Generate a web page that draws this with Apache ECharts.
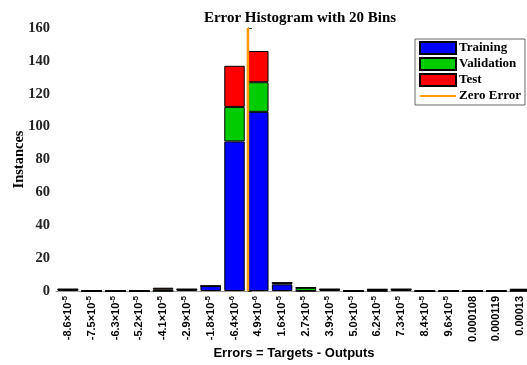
<!DOCTYPE html>
<html>
<head>
<meta charset="utf-8">
<script src="https://cdn.jsdelivr.net/npm/echarts@6/dist/echarts.min.js"></script>
<style>
  html, body { margin: 0; padding: 0; background: #fff; }
  #chart { width: 527px; height: 365px; }
</style>
</head>
<body>
<div id="chart"></div>
<script>
// Bin centres of the error histogram (Targets - Outputs)
const binCenters = [-8.6e-5, -7.5e-5, -6.3e-5, -5.2e-5, -4.1e-5, -2.9e-5, -1.8e-5, -6.4e-6,
  4.9e-6, 1.6e-5, 2.7e-5, 3.9e-5, 5.0e-5, 6.2e-5, 7.3e-5, 8.4e-5, 9.6e-5, 0.000108, 0.000119, 0.00013];
// Tick labels; "^" marks the exponent part
const binLabels = ['-8.6×10^-5', '-7.5×10^-5', '-6.3×10^-5', '-5.2×10^-5', '-4.1×10^-5',
  '-2.9×10^-5', '-1.8×10^-5', '-6.4×10^-6', '4.9×10^-6', '1.6×10^-5', '2.7×10^-5',
  '3.9×10^-5', '5.0×10^-5', '6.2×10^-5', '7.3×10^-5', '8.4×10^-5', '9.6×10^-5',
  '0.000108', '0.000119', '0.00013'];
// Instances per bin for each subset
const training   = [1, 0, 0, 0, 0, 1, 3, 91, 109, 4, 0, 1, 0, 0, 1, 0, 0, 0, 0, 0];
const validation = [0, 0, 0, 0, 1, 0, 0, 21, 18, 1, 2, 0, 0, 1, 0, 0, 0, 0, 0, 1];
const test       = [0, 0, 0, 0, 1, 0, 0, 25, 19, 0, 0, 0, 0, 0, 0, 0, 0, 0, 0, 0];
const zeroError = 0;
const yTicks = { min: 0, max: 160, step: 20 };

const binWidth = (binCenters[binCenters.length - 1] - binCenters[0]) / (binCenters.length - 1);
const serif = 'Liberation Serif, Times New Roman, serif';
const sans = 'Liberation Sans, Arial, sans-serif';

const chart = echarts.init(document.getElementById('chart'), null, { renderer: 'canvas' });

function barSeries(name, data, color) {
  return {
    name: name, type: 'bar', stack: 'all', data: data,
    barWidth: '86%', xAxisIndex: 0, yAxisIndex: 0,
    itemStyle: { color: color, borderColor: '#000', borderWidth: 1 },
    emphasis: { disabled: true }
  };
}

chart.setOption({
  animation: false,
  title: {
    text: 'Error Histogram with 20 Bins',
    left: 295, top: 6, textAlign: 'center',
    textStyle: { fontFamily: serif, fontWeight: 'bold', fontSize: 15, color: '#000' }
  },
  legend: {
    orient: 'vertical', left: 415, top: 39,
    padding: [2, 4, 2, 4], itemGap: 2, itemWidth: 36, itemHeight: 12,
    borderColor: '#666', borderWidth: 1, backgroundColor: '#fff',
    textStyle: { fontFamily: serif, fontWeight: 'bold', fontSize: 13, color: '#000', lineHeight: 14, padding: [0, 0, 0, -2] },
    data: [
      { name: 'Training', icon: 'rect' },
      { name: 'Validation', icon: 'rect' },
      { name: 'Test', icon: 'rect' },
      { name: 'Zero Error', itemStyle: { opacity: 0 } }
    ]
  },
  grid: { left: 56, right: -5, top: 28, bottom: 74, containLabel: false, outerBoundsMode: 'none' },
  xAxis: [{
    type: 'category', data: binLabels, boundaryGap: true,
    name: 'Errors = Targets - Outputs', nameLocation: 'middle', nameGap: 56, nameMoveOverlap: false,
    nameTextStyle: { fontFamily: sans, fontWeight: 'bold', fontSize: 13, color: '#000' },
    axisLine: { lineStyle: { color: '#999', width: 1 } },
    axisTick: { inside: true, alignWithLabel: true, length: 4, lineStyle: { color: '#444' } },
    axisLabel: {
      rotate: 90, interval: 0, margin: 5,
      formatter: function (v) {
        const parts = v.split('^');
        return parts.length > 1 ? '{b|' + parts[0] + '}{s|' + parts[1] + '}' : '{b|' + v + '}';
      },
      rich: {
        b: { fontFamily: sans, fontWeight: 'bold', fontSize: 11, color: '#000' },
        s: { fontFamily: sans, fontWeight: 'bold', fontSize: 7.5, color: '#000', verticalAlign: 'top', padding: [0, 0, 6, 0] }
      }
    },
    splitLine: { show: false }
  }, {
    type: 'value', show: false,
    min: binCenters[0] - binWidth / 2,
    max: binCenters[binCenters.length - 1] + binWidth / 2
  }],
  yAxis: {
    type: 'value', min: yTicks.min, max: yTicks.max, interval: yTicks.step,
    name: 'Instances', nameLocation: 'middle', nameGap: 29, nameRotate: 90, nameMoveOverlap: false,
    nameTextStyle: { fontFamily: serif, fontWeight: 'bold', fontSize: 14.5, color: '#000' },
    axisLine: { show: true, lineStyle: { color: '#333', width: 1 } },
    axisTick: { show: true, inside: true, length: 4, lineStyle: { color: '#333' } },
    axisLabel: { fontFamily: serif, fontWeight: 'bold', fontSize: 14.5, color: '#222', margin: 6 },
    splitLine: { show: false }
  },
  series: [
    barSeries('Training', training, '#0000FF'),
    barSeries('Validation', validation, '#00CC00'),
    barSeries('Test', test, '#FF0000'),
    {
      name: 'Zero Error', type: 'line', xAxisIndex: 1, yAxisIndex: 0,
      data: [[zeroError, yTicks.min], [zeroError, yTicks.max]],
      symbol: 'none', z: 5, color: '#FF9900',
      lineStyle: { color: '#FF9900', width: 2.5 },
      emphasis: { disabled: true }
    }
  ]
});
</script>
</body>
</html>
